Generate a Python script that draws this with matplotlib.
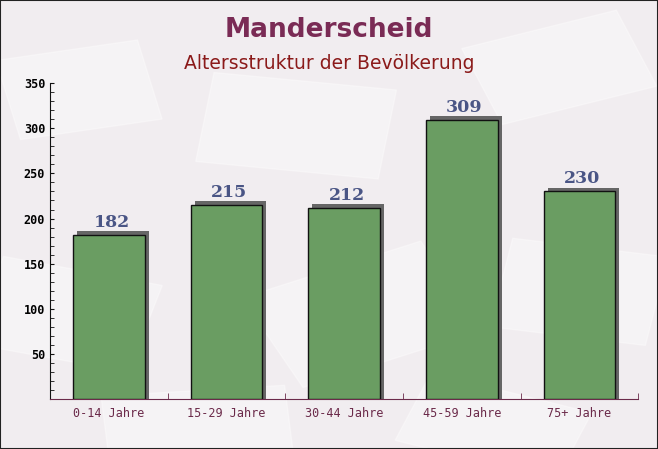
import matplotlib
matplotlib.use("Agg")
import matplotlib.pyplot as plt
import matplotlib.patches as mpatches
import numpy as np
from matplotlib.ticker import MultipleLocator

# data
categories = ['0-14 Jahre', '15-29 Jahre', '30-44 Jahre', '45-59 Jahre', '75+ Jahre']
values = [182, 215, 212, 309, 230]
title = 'Manderscheid'
subtitle = 'Altersstruktur der Bevölkerung'

bg = '#f1edf0'
fig = plt.figure(figsize=(6.58, 4.49), dpi=100, facecolor=bg)

# faint envelope-like background shapes (behind everything)
for (cx, cy, ww, hh, ang) in [(0.12, 0.80, 0.22, 0.18, 12), (0.45, 0.72, 0.28, 0.20, -8),
                              (0.85, 0.85, 0.25, 0.18, 20), (0.10, 0.30, 0.25, 0.20, -15),
                              (0.55, 0.30, 0.30, 0.22, 25), (0.88, 0.35, 0.24, 0.20, -10),
                              (0.30, 0.05, 0.28, 0.16, 5), (0.75, 0.05, 0.26, 0.16, -20)]:
    r = mpatches.Rectangle((cx - ww / 2, cy - hh / 2), ww, hh, angle=ang, rotation_point='center',
                           transform=fig.transFigure, color='white', alpha=0.35, zorder=-5)
    fig.patches.append(r)

ax = fig.add_axes([0.076, 0.111, 0.894, 0.704])
ax.set_facecolor('none')
ax.set_zorder(2)

x = np.arange(len(categories))
w = 0.61
# shadow behind bars (offset up/right)
ax.bar(x + 0.035, np.array(values) + 4, width=w, color='#666666', zorder=2)
ax.bar(x, values, width=w, color='#6a9d62', edgecolor='#111111', linewidth=1.0, zorder=3)

for xi, v in zip(x, values):
    ax.annotate(str(v), (xi, v), xytext=(2, 3), textcoords='offset points',
                ha='center', va='bottom', fontsize=12.5, fontweight='bold',
                family='DejaVu Serif', color='#4a5585', zorder=4)

ax.set_xlim(-0.5, len(categories) - 0.5)
ax.set_ylim(0, 350)
ax.yaxis.set_major_locator(MultipleLocator(50))
ax.yaxis.set_minor_locator(MultipleLocator(10))
ax.set_xticks(x)
ax.set_xticklabels(categories, family='DejaVu Sans Mono', fontsize=8.5, color='#6b2a4a')
ax.set_xticks(np.arange(len(categories)) + 0.5, minor=True)
ax.tick_params(axis='x', which='major', length=0, pad=6)
ax.tick_params(axis='x', which='minor', length=4, direction='in', color='#6b2a4a')
ax.tick_params(axis='y', which='both', direction='in', length=3, color='#111111')
ax.set_yticks([50, 100, 150, 200, 250, 300, 350])
for lab in ax.get_yticklabels():
    lab.set_family('DejaVu Sans Mono')
    lab.set_fontweight('bold')
    lab.set_fontsize(8.5)

ax.spines['top'].set_visible(False)
ax.spines['right'].set_visible(False)
ax.spines['left'].set_color('#111111')
ax.spines['bottom'].set_color('#6b2a4a')

fig.text(0.5, 0.933, title, ha='center', va='center', fontsize=19, fontweight='bold', color='#7a2b55')
fig.text(0.5, 0.858, subtitle, ha='center', va='center', fontsize=13.5, color='#8b1a1a')

# outer frame
fig.patches.append(plt.Rectangle((0, 0), 1, 1, transform=fig.transFigure, fill=False,
                                 edgecolor='#222222', linewidth=1.5, zorder=10))

fig.savefig('out.png', dpi=100, facecolor=bg)
